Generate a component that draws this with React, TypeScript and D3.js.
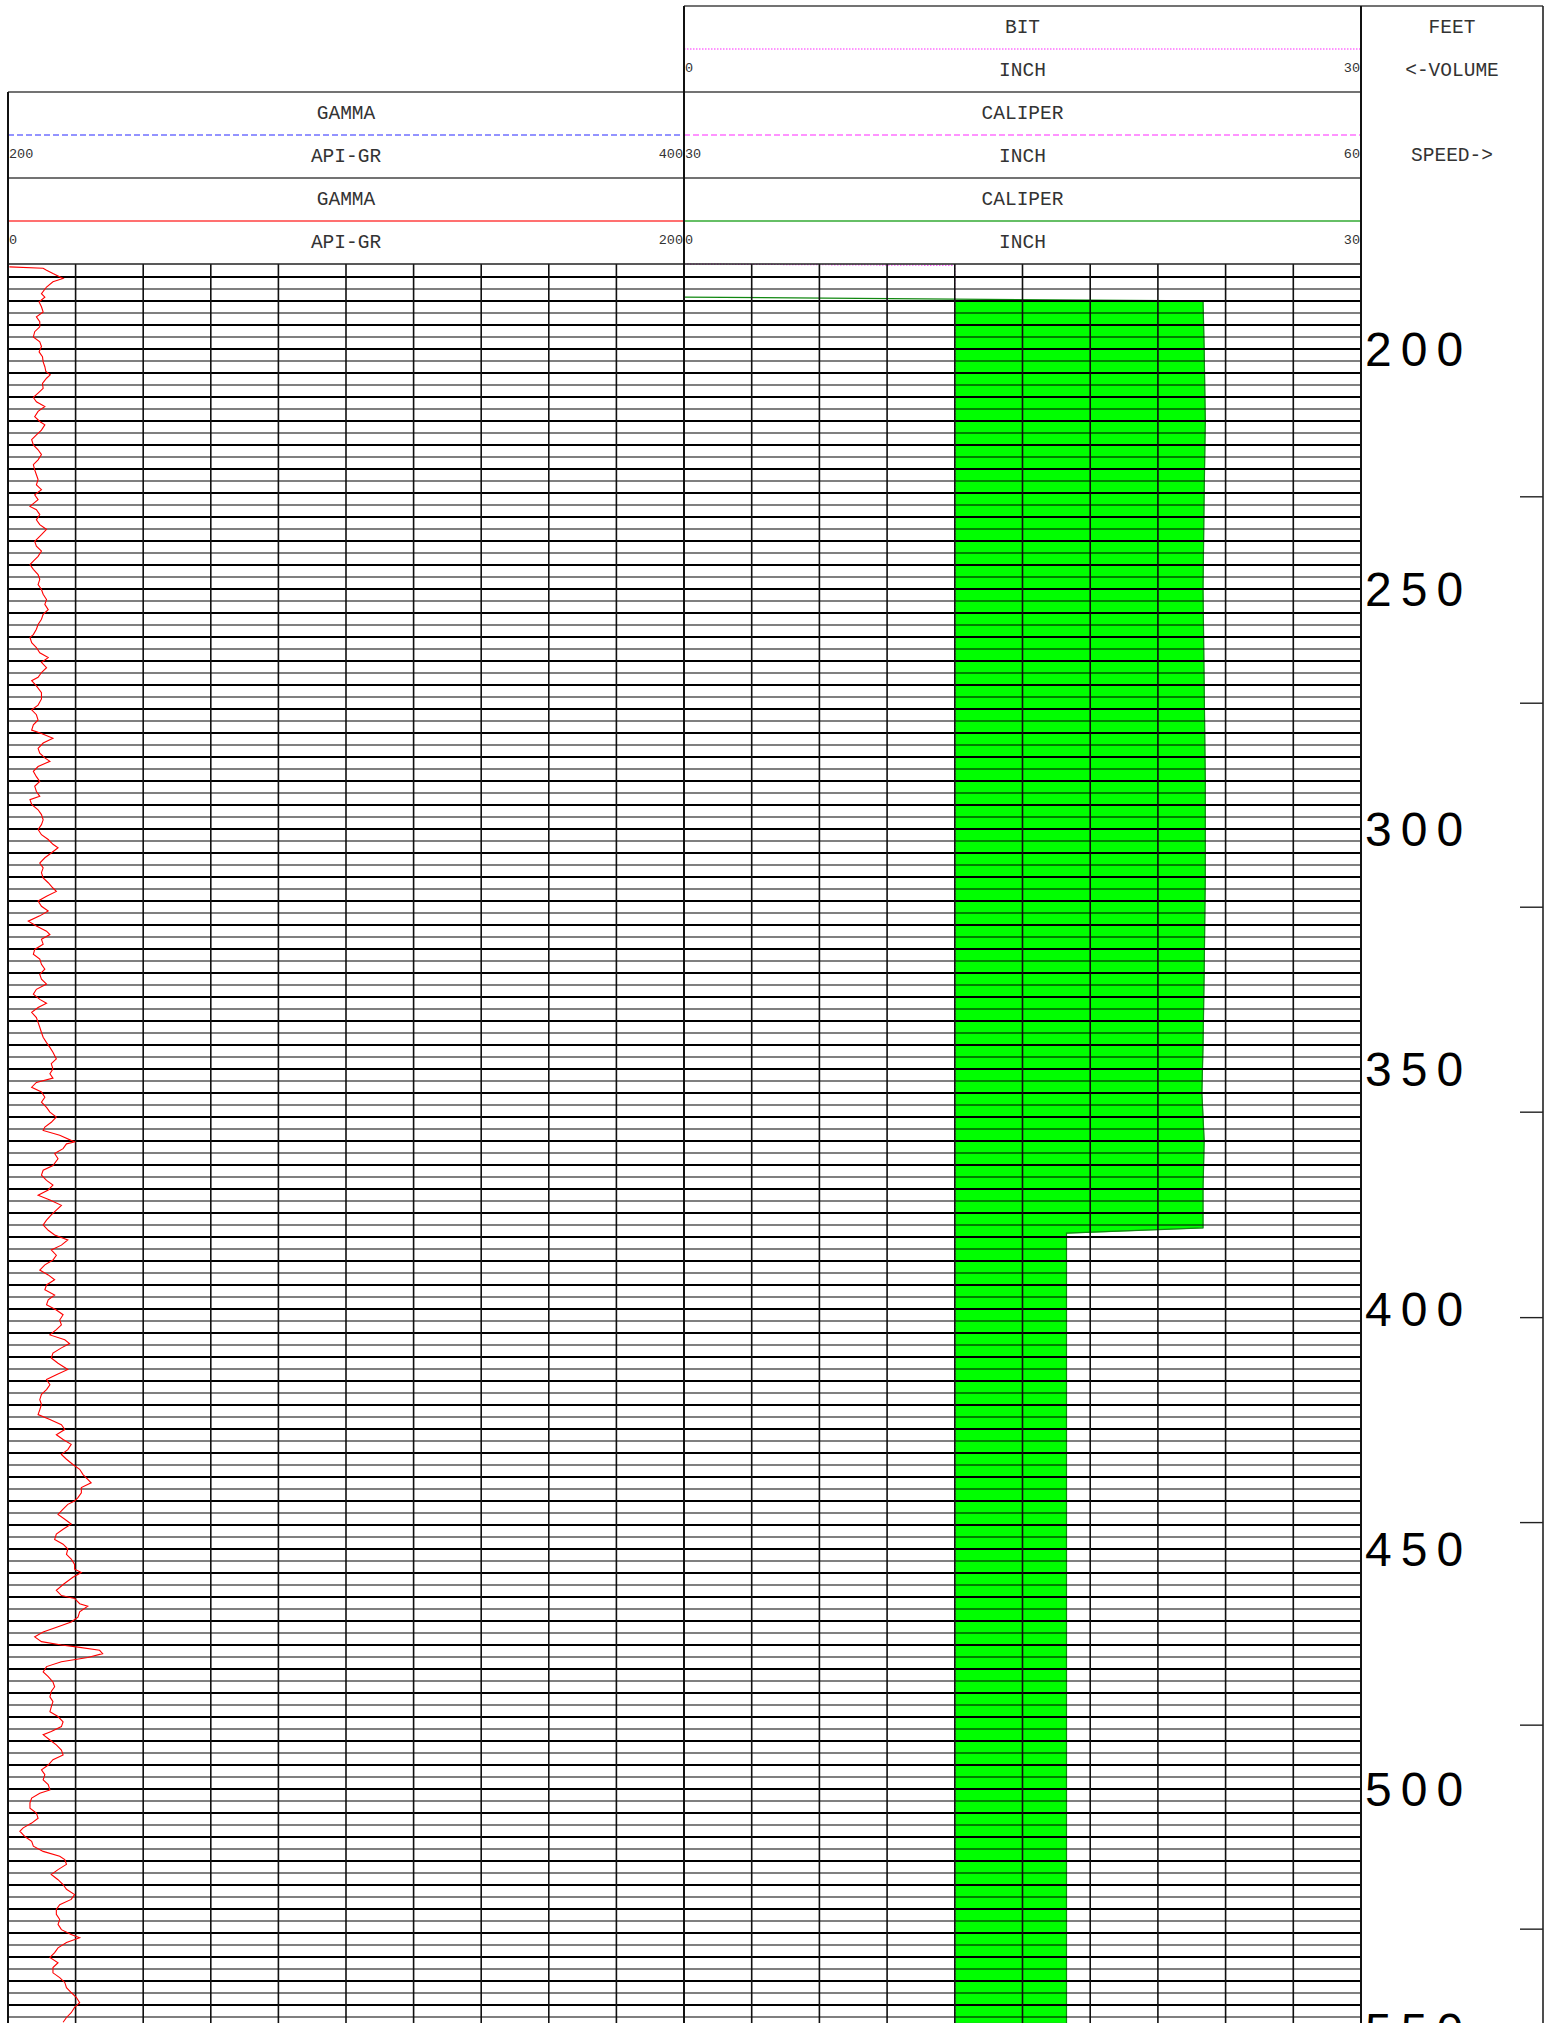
import React from 'react';
import * as d3 from 'd3';

const W = 1551;
const H = 2023;

// depth range shown (feet)
const TOP_DEPTH = 182.3;
const BOTTOM_DEPTH = 548.75;
const DEPTH_LABELS = [200, 250, 300, 350, 400, 450, 500, 550];
const SPEED_MARKS = [230.8, 273.8, 316.3, 359.0, 401.8, 444.5, 486.7, 529.2];

// GAMMA (API-GR, 0-200 scale)
const gammaDepth = [
  182.9, 183.2, 183.6, 184.3, 184.7, 185.3, 186.0, 187.1, 188.5, 189.2, 190.2, 191.2, 192.3, 193.3, 194.3, 195.4,
  196.4, 197.5, 198.5, 199.5, 200.6, 201.6, 202.7, 203.7, 204.7, 205.4, 206.1, 207.2, 208.2, 209.2, 210.1, 211.0,
  212.0, 213.0, 214.1, 215.1, 215.8, 216.9, 217.9, 218.9, 220.0, 221.0, 222.0, 223.1, 224.1, 225.2, 226.2, 227.2,
  228.3, 229.3, 230.4, 231.4, 232.8, 233.5, 234.5, 235.6, 236.6, 237.6, 238.7, 240.1, 241.1, 242.1, 243.2, 244.2,
  244.9, 245.9, 247.0, 248.0, 249.1, 250.1, 251.1, 252.2, 253.2, 254.3, 255.3, 256.3, 257.4, 258.4, 259.5, 260.1,
  261.2, 262.2, 263.3, 264.3, 265.3, 266.4, 267.4, 268.4, 269.1, 270.2, 271.6, 272.9, 274.2, 275.2, 276.2, 277.3,
  278.3, 279.4, 280.1, 281.1, 282.1, 283.2, 284.2, 285.2, 285.9, 287.0, 288.0, 289.1, 290.1, 291.1, 292.2, 293.2,
  293.9, 294.9, 296.0, 297.0, 298.1, 299.1, 300.1, 301.2, 302.2, 303.2, 303.9, 305.0, 306.0, 307.1, 308.1, 309.1,
  310.2, 311.2, 312.3, 313.0, 314.0, 315.0, 316.1, 317.1, 318.1, 319.2, 320.2, 321.3, 322.0, 323.0, 324.0, 325.1,
  326.1, 327.1, 328.2, 329.2, 330.3, 331.3, 332.3, 333.4, 334.4, 335.5, 336.3, 337.2, 338.2, 339.3, 340.3, 341.3,
  342.4, 343.4, 344.5, 345.5, 346.5, 347.9, 348.9, 350.0, 351.0, 351.9, 352.8, 353.8, 354.8, 355.9, 356.9, 358.0,
  359.0, 360.0, 361.1, 362.1, 362.8, 363.8, 365.2, 365.6, 366.6, 367.6, 368.7, 370.1, 371.1, 372.1, 373.2, 374.2,
  375.2, 376.3, 377.3, 378.4, 379.4, 380.4, 381.5, 382.5, 383.6, 384.6, 385.6, 386.7, 387.7, 388.8, 389.8, 390.8,
  391.9, 392.9, 393.9, 395.0, 396.0, 397.1, 398.1, 399.1, 400.2, 401.2, 402.3, 403.3, 404.3, 405.4, 406.4, 407.2,
  408.1, 409.2, 410.2, 411.3, 412.6, 413.7, 414.7, 415.8, 416.8, 417.8, 418.9, 419.9, 421.0, 422.0, 423.0, 424.1,
  425.1, 426.2, 427.2, 428.2, 429.3, 430.3, 431.3, 432.4, 433.4, 434.5, 435.5, 436.2, 437.2, 438.3, 439.3, 440.0,
  440.7, 441.7, 442.8, 443.8, 444.8, 445.9, 446.9, 448.0, 449.0, 450.0, 451.1, 452.1, 453.2, 454.2, 454.9, 455.9,
  457.3, 458.6, 459.7, 460.3, 461.4, 461.9, 463.1, 464.2, 465.2, 466.2, 467.3, 468.3, 469.3, 470.0, 470.4, 471.1,
  471.8, 472.6, 473.5, 474.5, 475.6, 476.6, 477.7, 478.7, 479.7, 480.8, 481.8, 482.9, 483.9, 484.9, 486.0, 487.0,
  488.0, 488.7, 489.8, 490.8, 491.9, 492.9, 493.9, 495.0, 496.0, 497.0, 498.1, 499.1, 500.2, 500.9, 501.9, 502.9,
  504.0, 505.0, 506.1, 507.1, 508.1, 508.8, 509.9, 510.9, 511.9, 513.0, 514.0, 514.7, 515.7, 516.8, 517.8, 518.9,
  519.9, 520.9, 522.0, 523.0, 524.1, 525.1, 526.1, 527.2, 528.2, 529.3, 530.3, 531.0, 532.0, 533.1, 534.1, 535.1,
  536.2, 537.2, 538.3, 539.3, 540.3, 541.4, 542.4, 543.4, 544.5, 545.5, 546.6, 547.6, 548.6
];
const gammaApi = [
  0.4, 10.4, 11.4, 13.3, 14.5, 16.3, 13.3, 11.4, 9.9, 10.9, 9.2, 9.9, 10.4, 8.4, 9.4, 9.4,
  7.9, 7.5, 9.4, 9.9, 9.2, 10.2, 10.4, 10.9, 11.2, 12.5, 11.4, 10.2, 10.4, 8.9, 7.5, 8.4,
  10.9, 8.9, 7.9, 9.4, 10.9, 9.9, 8.4, 7.0, 7.5, 8.9, 9.9, 8.9, 7.5, 7.9, 8.4, 8.9,
  8.4, 9.9, 7.9, 8.9, 6.5, 8.4, 9.4, 8.4, 9.4, 11.4, 9.9, 7.9, 8.4, 9.9, 8.9, 7.5,
  6.5, 7.5, 8.9, 9.4, 8.9, 9.9, 10.4, 11.4, 10.9, 11.9, 10.4, 9.9, 8.9, 8.4, 7.5, 6.5,
  7.0, 8.4, 9.4, 11.9, 9.9, 11.4, 9.9, 8.9, 7.0, 8.4, 9.9, 9.9, 8.9, 7.0, 8.4, 8.9,
  7.5, 7.0, 9.9, 13.3, 10.4, 8.9, 9.4, 10.9, 12.4, 8.9, 7.5, 8.4, 9.4, 7.9, 8.4, 9.4,
  6.5, 7.0, 8.9, 9.9, 10.4, 9.9, 8.9, 9.9, 11.9, 13.3, 14.8, 12.8, 10.9, 9.4, 10.4, 9.9,
  10.4, 11.9, 13.3, 14.3, 11.4, 8.9, 9.9, 11.9, 9.4, 6.0, 8.4, 11.4, 12.4, 9.9, 10.4, 7.9,
  7.5, 9.4, 9.9, 10.9, 9.4, 9.9, 11.4, 8.4, 7.5, 9.4, 11.4, 8.9, 7.0, 8.4, 8.9, 9.4,
  9.9, 10.4, 11.4, 12.4, 13.3, 14.3, 12.8, 13.3, 12.4, 13.3, 8.4, 7.0, 9.9, 10.9, 9.9, 11.4,
  12.4, 14.3, 12.8, 10.9, 10.4, 15.3, 19.7, 17.3, 16.3, 13.8, 14.8, 13.3, 10.4, 9.9, 11.4, 13.3,
  11.9, 8.9, 12.4, 15.8, 14.3, 12.8, 11.4, 10.4, 11.9, 13.8, 17.7, 15.8, 12.8, 14.3, 13.3, 10.9,
  9.4, 11.9, 13.8, 11.4, 10.9, 13.8, 11.9, 11.4, 14.3, 16.3, 15.3, 15.8, 14.3, 12.4, 16.8, 18.2,
  15.8, 13.3, 12.8, 14.8, 17.7, 14.3, 11.4, 12.4, 11.4, 9.9, 9.4, 9.9, 9.4, 8.9, 12.4, 15.8,
  16.8, 14.3, 16.3, 18.7, 17.7, 15.8, 17.3, 19.2, 21.2, 22.2, 23.6, 24.6, 21.7, 21.7, 20.7, 19.7,
  17.7, 16.3, 14.8, 16.8, 18.7, 16.3, 14.3, 13.8, 16.3, 17.7, 17.3, 18.7, 19.7, 19.7, 21.7, 19.2,
  16.5, 14.3, 15.8, 19.7, 21.2, 23.6, 21.2, 20.7, 18.7, 14.8, 10.4, 7.9, 9.9, 15.8, 20.2, 27.1,
  28.0, 23.6, 15.8, 11.4, 10.4, 11.9, 13.3, 13.8, 12.8, 12.4, 13.3, 12.8, 12.4, 14.8, 16.3, 15.8,
  12.8, 10.4, 12.4, 14.3, 15.8, 16.3, 13.3, 11.9, 9.9, 10.9, 10.4, 11.9, 12.4, 9.4, 7.0, 6.5,
  6.5, 8.4, 8.9, 7.0, 4.5, 3.5, 5.0, 7.0, 7.5, 10.4, 15.3, 16.8, 17.3, 14.8, 12.8, 14.8,
  16.3, 17.3, 19.7, 18.7, 15.3, 14.3, 14.3, 15.3, 14.8, 15.8, 18.7, 21.2, 17.3, 14.8, 13.8, 12.4,
  14.8, 13.3, 13.3, 15.3, 16.8, 17.3, 18.7, 20.2, 21.2, 19.7, 18.7, 17.3, 16.3
];

// BIT (INCH, 0-30 scale)
const bitDepth = [182.3, 182.6, 548.75];
const bitInch = [0, 12, 12];

// CALIPER (INCH, 0-30 scale)
const caliperDepth = [189.2, 190.0, 200, 215, 230, 250, 270, 290, 310, 330, 345, 355, 365, 375, 383.1, 384.2, 400, 450, 500, 548.75];
const caliperInch = [0, 23.0, 23.05, 23.1, 23.05, 23.0, 23.05, 23.1, 23.1, 23.05, 23.0, 22.95, 23.05, 23.0, 23.0, 16.95, 16.95, 16.95, 16.95, 16.95];
const FILL_FROM = 190.0;

// header rows
const HEADER_ROWS = [
  { top: 6, cells: [
    null,
    { title: 'BIT', unit: 'INCH', lo: '0', hi: '30', color: '#ff70ff', dash: '1.5,1.5' }
  ] },
  { top: 92, cells: [
    { title: 'GAMMA', unit: 'API-GR', lo: '200', hi: '400', color: '#7070ff', dash: '6,3' },
    { title: 'CALIPER', unit: 'INCH', lo: '30', hi: '60', color: '#ff70ff', dash: '6,3' }
  ] },
  { top: 178, cells: [
    { title: 'GAMMA', unit: 'API-GR', lo: '0', hi: '200', color: '#ff4040', dash: null },
    { title: 'CALIPER', unit: 'INCH', lo: '0', hi: '30', color: '#33aa33', dash: null }
  ] }
];
const DEPTH_HEADER = [
  { text: 'FEET', y: 27 },
  { text: '<-VOLUME', y: 70 },
  { text: 'SPEED->', y: 155 }
];

const MONO = '"Liberation Mono", "DejaVu Sans Mono", monospace';

export default function App() {
  const trackL = [8, 684];
  const trackM = [684, 1361];
  const depthRight = 1543;
  const gridTop = 264;

  const y = d3.scaleLinear().domain([TOP_DEPTH, BOTTOM_DEPTH]).range([gridTop, H]);
  const xGamma = d3.scaleLinear().domain([0, 200]).range(trackL);
  const xInch = d3.scaleLinear().domain([0, 30]).range(trackM);

  const gamma = gammaDepth.map((d, i) => ({ d, v: gammaApi[i] }));
  const bit = bitDepth.map((d, i) => ({ d, v: bitInch[i] }));
  const cal = caliperDepth.map((d, i) => ({ d, v: caliperInch[i] }));

  // bit size at a given depth (linear between samples)
  const bitAt = (depth: number) => {
    const i = d3.bisector((p: any) => p.d).right(bit, depth);
    if (i <= 0) return bit[0].v;
    if (i >= bit.length) return bit[bit.length - 1].v;
    const a = bit[i - 1], b = bit[i];
    return a.v + (b.v - a.v) * (depth - a.d) / (b.d - a.d);
  };

  const gammaPath = d3.line<any>().x(p => xGamma(p.v)).y(p => y(p.d))(gamma) || '';
  const bitPath = d3.line<any>().x(p => xInch(p.v)).y(p => y(p.d))(bit) || '';
  const calPath = d3.line<any>().x(p => xInch(p.v)).y(p => y(p.d))(cal) || '';
  const fillPath = d3.area<any>()
    .y(p => y(p.d))
    .x0(p => xInch(bitAt(p.d)))
    .x1(p => xInch(p.v))(cal.filter(p => p.d >= FILL_FROM)) || '';

  const hLines = d3.range(185, BOTTOM_DEPTH, 2.5);
  const vGamma = d3.range(20, 200, 20);
  const vInch = d3.range(3, 30, 3);

  const headerText = (txt: string, x: number, cy: number, size: number, anchor: string, key: string) => (
    <text key={key} x={x} y={cy + size * 0.3} fontFamily={MONO} fontSize={size} fill="#333" textAnchor={anchor}>{txt}</text>
  );

  return (
    <svg width={W} height={H} viewBox={`0 0 ${W} ${H}`}
      style={{ position: 'absolute', left: 0, top: 0, display: 'block', background: '#fff' }}>
      <rect x={0} y={0} width={W} height={H} fill="#fff" />

      {/* header */}
      {HEADER_ROWS.map((row, ri) => row.cells.map((c, ci) => {
        if (!c) return null;
        const tr = ci === 0 ? trackL : trackM;
        const cx = (tr[0] + tr[1]) / 2;
        return (
          <g key={`h${ri}${ci}`}>
            {headerText(c.title, cx, row.top + 21, 19.5, 'middle', 't')}
            <line x1={tr[0]} x2={tr[1]} y1={row.top + 43} y2={row.top + 43}
              stroke={c.color} strokeWidth={1.4} strokeDasharray={c.dash || undefined} />
            {headerText(c.unit, cx, row.top + 64, 19.5, 'middle', 'u')}
            {headerText(c.lo, tr[0] + 1, row.top + 62, 13.5, 'start', 'lo')}
            {headerText(c.hi, tr[1] - 1, row.top + 62, 13.5, 'end', 'hi')}
          </g>
        );
      }))}
      {DEPTH_HEADER.map(h => headerText(h.text, (trackM[1] + depthRight) / 2, h.y, 19.5, 'middle', h.text))}

      {/* header frame */}
      <g stroke="#444" strokeWidth={1.4} fill="none">
        <line x1={trackM[0]} x2={depthRight} y1={6} y2={6} />
        <line x1={trackL[0]} x2={trackM[1]} y1={92} y2={92} />
        <line x1={trackL[0]} x2={trackM[1]} y1={178} y2={178} />
      </g>

      {/* caliper fill, bit and caliper curves under grid */}
      <path d={fillPath} fill="#00ff00" stroke="#22cc22" strokeWidth={0.8} />
      <path d={bitPath} fill="none" stroke="#ff60ff" strokeWidth={1.2} strokeDasharray="1.5,1.5" />
      <path d={calPath} fill="none" stroke="#118811" strokeWidth={1.2} />

      {/* grid */}
      <g>
        {hLines.map(d => {
          const thick = Math.abs(d / 5 - Math.round(d / 5)) < 1e-6;
          return (
            <line key={d} x1={trackL[0]} x2={trackM[1]} y1={y(d)} y2={y(d)}
              stroke="#000" strokeWidth={thick ? 2 : 1.1} />
          );
        })}
        {vGamma.map(v => (
          <line key={`g${v}`} x1={xGamma(v)} x2={xGamma(v)} y1={gridTop} y2={H} stroke="#111" strokeWidth={1.6} />
        ))}
        {vInch.map(v => (
          <line key={`i${v}`} x1={xInch(v)} x2={xInch(v)} y1={gridTop} y2={H} stroke="#111" strokeWidth={1.6} />
        ))}
        <line x1={trackL[0]} x2={trackM[1]} y1={gridTop} y2={gridTop} stroke="#222" strokeWidth={1.5} />
        <line x1={trackL[0]} x2={trackL[0]} y1={92} y2={H} stroke="#111" strokeWidth={2} />
        <line x1={trackM[0]} x2={trackM[0]} y1={6} y2={H} stroke="#111" strokeWidth={2} />
        <line x1={trackM[1]} x2={trackM[1]} y1={6} y2={H} stroke="#111" strokeWidth={2} />
        <line x1={depthRight} x2={depthRight} y1={6} y2={H} stroke="#222" strokeWidth={1.6} />
      </g>

      {/* gamma curve */}
      <path d={gammaPath} fill="none" stroke="#ff0000" strokeWidth={1.1} />

      {/* depth track */}
      {DEPTH_LABELS.map(d => (
        <text key={d} x={1365} y={y(d) + 17.5} fontFamily='"Liberation Sans", Arial, sans-serif'
          fontSize={48} letterSpacing={9} fill="#000">{d}</text>
      ))}
      {SPEED_MARKS.map(d => (
        <line key={`s${d}`} x1={depthRight - 23} x2={depthRight} y1={y(d)} y2={y(d)} stroke="#222" strokeWidth={1.4} />
      ))}
    </svg>
  );
}
